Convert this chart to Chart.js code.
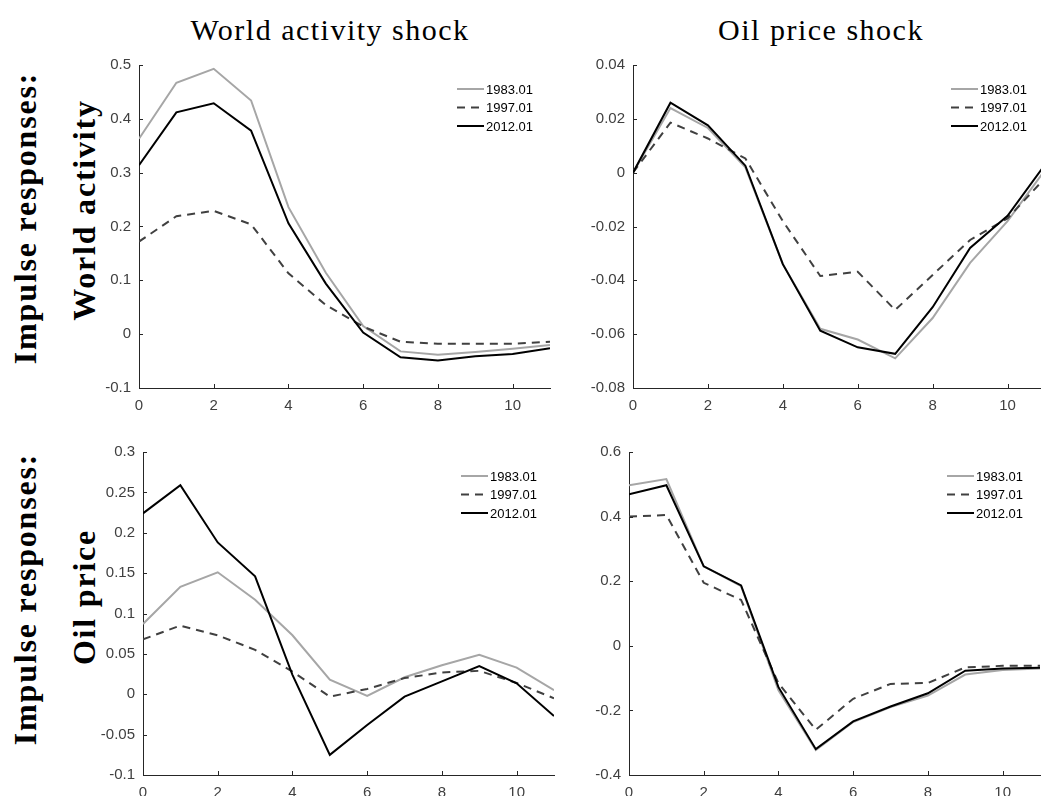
<!DOCTYPE html>
<html>
<head>
<meta charset="utf-8">
<script src="https://cdn.jsdelivr.net/npm/chart.js@4.4.1/dist/chart.umd.min.js"></script>
<style>
  html, body { margin: 0; padding: 0; background: #fff; overflow: hidden; width: 1041px; height: 796px; }
  canvas { position: absolute; }
  .title { position: absolute; font-family: "Liberation Serif", "DejaVu Serif", serif; font-size: 30px; letter-spacing: 1.5px; color: #000;
           transform: translate(-50%, -50%); white-space: nowrap; }
  .rowlab { position: absolute; font-family: "Liberation Serif", "DejaVu Serif", serif; font-weight: bold; font-size: 32px; letter-spacing: 1.8px; color: #000;
            transform: translate(-50%, -50%) rotate(-90deg); white-space: nowrap; }
</style>
</head>
<body>
<div class="title" style="left:330px; top:30px;">World activity shock</div>
<div class="title" style="left:821px; top:30px;">Oil price shock</div>
<div class="rowlab" style="left:25px; top:218px;">Impulse responses:</div>
<div class="rowlab" style="left:84px; top:210px;">World activity</div>
<div class="rowlab" style="left:25px; top:599px;">Impulse responses:</div>
<div class="rowlab" style="left:84px; top:597px;">Oil price</div>

<canvas id="waWa"></canvas>
<canvas id="opWa"></canvas>
<canvas id="waOp"></canvas>
<canvas id="opOp"></canvas>

<script>
// horizon (months after the shock) and the three estimation dates
const horizon = [0, 1, 2, 3, 4, 5, 6, 7, 8, 9, 10, 11];
const dates = ["1983.01", "1997.01", "2012.01"];
const xTicks = [0, 2, 4, 6, 8, 10];

// world activity shock -> world activity
const waWa1983 = [0.363, 0.467, 0.493, 0.434, 0.236, 0.114, 0.015, -0.032, -0.038, -0.033, -0.027, -0.020];
const waWa1997 = [0.172, 0.219, 0.229, 0.204, 0.113, 0.054, 0.014, -0.014, -0.018, -0.018, -0.018, -0.014];
const waWa2012 = [0.314, 0.412, 0.429, 0.378, 0.206, 0.094, 0.003, -0.043, -0.049, -0.041, -0.037, -0.026];
const waWaTicks = [-0.1, 0, 0.1, 0.2, 0.3, 0.4, 0.5];

// oil price shock -> world activity
const opWa1983 = [0, 0.024, 0.0166, 0.002, -0.034, -0.058, -0.062, -0.069, -0.054, -0.0335, -0.018, 0.001];
const opWa1997 = [0, 0.0186, 0.0127, 0.0053, -0.018, -0.0384, -0.0368, -0.051, -0.038, -0.025, -0.017, -0.002];
const opWa2012 = [0, 0.026, 0.0176, 0.0026, -0.034, -0.0587, -0.0649, -0.0673, -0.050, -0.028, -0.016, 0.003];
const opWaTicks = [-0.08, -0.06, -0.04, -0.02, 0, 0.02, 0.04];

// world activity shock -> oil price
const waOp1983 = [0.087, 0.133, 0.151, 0.117, 0.073, 0.018, -0.002, 0.021, 0.036, 0.049, 0.033, 0.005];
const waOp1997 = [0.068, 0.085, 0.073, 0.055, 0.028, -0.003, 0.0066, 0.020, 0.027, 0.029, 0.014, -0.005];
const waOp2012 = [0.224, 0.259, 0.188, 0.146, 0.024, -0.075, -0.038, -0.003, 0.016, 0.035, 0.0135, -0.027];
const waOpTicks = [-0.1, -0.05, 0, 0.05, 0.1, 0.15, 0.2, 0.25, 0.3];

// oil price shock -> oil price
const opOp1983 = [0.497, 0.516, 0.246, 0.185, -0.138, -0.323, -0.236, -0.19, -0.154, -0.089, -0.075, -0.07];
const opOp1997 = [0.40, 0.405, 0.195, 0.142, -0.116, -0.26, -0.164, -0.118, -0.115, -0.067, -0.062, -0.062];
const opOp2012 = [0.469, 0.497, 0.246, 0.187, -0.128, -0.32, -0.234, -0.188, -0.147, -0.077, -0.070, -0.068];
const opOpTicks = [-0.4, -0.2, 0, 0.2, 0.4, 0.6];

const AXIS = "#262626";
const styles = [
  { borderColor: "#a6a6a6", borderDash: [] },
  { borderColor: "#404040", borderDash: [8, 6] },
  { borderColor: "#000000", borderDash: [] },
];

// MATLAB-style ticks pointing into the plot
const innerTicks = {
  id: "innerTicks",
  afterDraw(chart) {
    const { ctx, chartArea: a, scales } = chart;
    ctx.save();
    ctx.strokeStyle = AXIS;
    ctx.lineWidth = 1;
    ctx.beginPath();
    scales.x.ticks.forEach(t => {
      const px = Math.round(scales.x.getPixelForValue(t.value)) + 0.5;
      ctx.moveTo(px, a.bottom);
      ctx.lineTo(px, a.bottom - 4);
    });
    scales.y.ticks.forEach(t => {
      const py = Math.round(scales.y.getPixelForValue(t.value)) + 0.5;
      ctx.moveTo(a.left, py);
      ctx.lineTo(a.left + 4, py);
    });
    ctx.stroke();
    ctx.restore();
  }
};

// legend inside the axes, top right, no box
const insideLegend = {
  id: "insideLegend",
  afterDraw(chart) {
    const { ctx, chartArea: a } = chart;
    ctx.save();
    ctx.font = "13px 'Liberation Sans', Arial, sans-serif";
    ctx.textBaseline = "middle";
    ctx.fillStyle = "#000";
    chart.data.datasets.forEach((ds, i) => {
      const y = a.top + 24 + i * 18.5;
      const x0 = a.left + 318;
      ctx.strokeStyle = ds.borderColor;
      ctx.lineWidth = 2;
      ctx.setLineDash(ds.borderDash);
      ctx.beginPath();
      ctx.moveTo(x0, y);
      ctx.lineTo(x0 + 27, y);
      ctx.stroke();
      ctx.setLineDash([]);
      ctx.fillText(ds.label, x0 + 29, y + 1);
    });
    ctx.restore();
  }
};

function panel(id, rect, series, yTicks) {
  const padL = 70, padT = 15, padR = 10, padB = 35;
  const cv = document.getElementById(id);
  cv.width = padL + rect.w + padR;
  cv.height = padT + rect.h + padB;
  cv.style.left = (rect.l - padL) + "px";
  cv.style.top = (rect.t - padT) + "px";

  const datasets = series.map((vals, i) => ({
    label: dates[i],
    data: horizon.map((h, k) => ({ x: h, y: vals[k] })),
    borderColor: styles[i].borderColor,
    borderDash: styles[i].borderDash,
    borderWidth: 2,
    pointRadius: 0,
    tension: 0,
    fill: false,
  }));
  // grey first, dashed next, black on top
  datasets.forEach((d, i) => { d.order = 3 - i; });

  const tickFont = { family: "'Liberation Sans', Arial, sans-serif", size: 15 };
  return new Chart(cv, {
    type: "line",
    data: { datasets },
    options: {
      responsive: false,
      animation: false,
      layout: { padding: { top: padT, right: padR, left: 0, bottom: 0 } },
      plugins: { legend: { display: false }, tooltip: { enabled: false } },
      scales: {
        x: {
          type: "linear",
          min: 0,
          max: horizon[horizon.length - 1],
          afterBuildTicks: s => { s.ticks = xTicks.map(v => ({ value: v })); },
          afterFit: s => { s.height = padB; },
          ticks: { color: "#404040", font: tickFont, padding: 9, maxRotation: 0, callback: v => String(v) },
          grid: { drawOnChartArea: false, drawTicks: false },
          border: { display: true, color: AXIS, width: 1 },
        },
        y: {
          min: yTicks[0],
          max: yTicks[yTicks.length - 1],
          afterBuildTicks: s => { s.ticks = yTicks.map(v => ({ value: v })); },
          afterFit: s => { s.width = padL; },
          ticks: { color: "#404040", font: tickFont, padding: 8, callback: v => String(v) },
          grid: { drawOnChartArea: false, drawTicks: false },
          border: { display: true, color: AXIS, width: 1 },
        },
      },
    },
    plugins: [innerTicks, insideLegend],
  });
}

panel("waWa", { l: 139, t: 63, w: 411, h: 325 }, [waWa1983, waWa1997, waWa2012], waWaTicks);
panel("opWa", { l: 633, t: 63, w: 412, h: 325 }, [opWa1983, opWa1997, opWa2012], opWaTicks);
panel("waOp", { l: 143, t: 450, w: 411, h: 325 }, [waOp1983, waOp1997, waOp2012], waOpTicks);
panel("opOp", { l: 629, t: 450, w: 411, h: 325 }, [opOp1983, opOp1997, opOp2012], opOpTicks);
</script>
</body>
</html>
